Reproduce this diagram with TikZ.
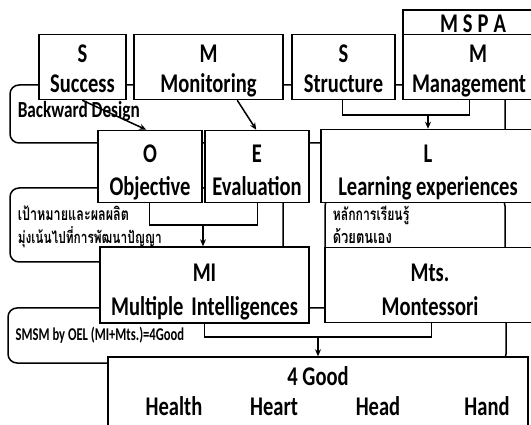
\documentclass[tikz,border=0pt]{standalone}
\usepackage{fontspec}
\setmainfont{Carlito}[FakeStretch=0.76]
\newfontfamily\lblfont{Carlito}[FakeStretch=0.75]
\newfontfamily\smfont{Carlito}[FakeStretch=0.70]
\newfontfamily\thaifont[Script=Thai,FakeStretch=0.72]{Loma}
\usetikzlibrary{arrows.meta,calc}
\newcommand\tl[1]{\rule{0pt}{#1pt}}
\newcommand\bl{\rule[-7pt]{0pt}{7pt}}
\begin{document}
\begin{tikzpicture}[x=1pt,y=-1pt,line width=1.5pt,
  box/.style={draw,fill=white,rectangle,inner sep=0pt,align=center,
    font=\fontsize{27}{30}\selectfont\bfseries},
  box2/.style={box,font=\fontsize{27}{33}\selectfont\bfseries},
  box3/.style={box,font=\fontsize{27}{34}\selectfont\bfseries},
  grp/.style={draw,rounded corners=9pt},
  lbl/.style={inner sep=0pt,anchor=base west},
  good/.style={inner sep=0pt,anchor=base,font=\fontsize{27}{30}\selectfont\bfseries},
  arr/.style={-{Stealth[length=7pt,width=6pt]}}]
\useasboundingbox (0,0) rectangle (531,425);
\fill[white] (0,0) rectangle (531,425);
% group outlines
\draw[grp] (10,85) rectangle (505,143);
\draw[grp] (10,188) rectangle (283,262);
\draw[grp] (325,197) rectangle (505,262);
\draw[grp] (8,308) rectangle (506,363);
% boxes
\node[box,minimum width=150,minimum height=27] (mspa) at (478,23.5) {M\hspace{5pt}S\hspace{5pt}P\hspace{5pt}A\hspace{10pt}};
\node[box,minimum width=87,minimum height=60] (s1) at (82.5,67) {\tl{28}S\\Success\bl};
\node[box,minimum width=149,minimum height=60] (m1) at (208.5,67) {\tl{28}M\\Monitoring\bl};
\node[box,minimum width=103,minimum height=60] (s2) at (343.5,67) {\tl{28}S\\Structure\bl};
\node[box,minimum width=150,minimum height=60] (m2) at (478,67) {\tl{28}M\\Management\hspace{18pt}\bl};
\node[box2,minimum width=104,minimum height=67] (o) at (150,166.5) {\tl{32}O\\Objective\bl};
\node[box2,minimum width=104,minimum height=67] (e) at (257,166.5) {\tl{32}E\\Evaluation\bl};
\node[box2,minimum width=214,minimum height=66] (l) at (428,166) {\tl{33}L\\Learning experiences\bl};
\node[box3,minimum width=209,minimum height=66] (mi) at (204.5,285) {\tl{35}MI\\Multiple\hspace{0.12em} Intelligences\bl};
\node[box3,minimum width=210,minimum height=66] (mts) at (430,285) {\tl{34}Mts.\\Montessori\bl};
\node[box,minimum width=420,minimum height=90] (g) at (318,402) {};
\node[good] (g0) at (318,385) {4 Good};
\node[good] (g1) at (174,415) {Health};
\node[good] (g2) at (274,415) {Heart};
\node[good] (g3) at (378,415) {Head};
\node[good] (g4) at (487,415) {Hand};
% labels
\node[lbl,font=\lblfont\fontsize{23}{26}\selectfont\bfseries] (bd) at (17,118) {Backward Design};
\node[lbl,font=\smfont\fontsize{18}{21}\selectfont\bfseries] (sm) at (15,341) {SMSM by OEL (MI+Mts.)=4Good};
\node[lbl,font=\thaifont\fontsize{17.5}{19}\selectfont\bfseries] (t1) at (17,221) {เป้าหมายและผลผลิต};
\node[lbl,font=\thaifont\fontsize{16.5}{19}\selectfont\bfseries] (t2) at (17,244) {มุ่งเน้นไปที่การพัฒนาปัญญา};
\node[lbl,font=\thaifont\fontsize{17}{19}\selectfont\bfseries] (t3) at (332,221) {หลักการเรียนรู้};
\node[lbl,font=\thaifont\fontsize{18}{19}\selectfont\bfseries] (t4) at (332,244) {ด้วยตนเอง};
% connectors
\draw[arr] ([xshift=44]s1.south west) -- ([xshift=49]o.north west);
\draw[arr] ([xshift=104]m1.south west) -- ([xshift=52]e.north west);
\coordinate (j1) at (428,115);
\draw ([xshift=51]s2.south west) |- (j1) -| ([xshift=67]m2.south west);
\draw[arr] (j1) -- (j1 |- l.north);
\coordinate (j2) at (203,225);
\draw ([xshift=52]o.south west) |- (j2) -| ([xshift=53]e.south west);
\draw[arr] (j2) -- (j2 |- mi.north);
\coordinate (j3) at (318,337);
\draw ([xshift=105]mi.south west) |- (j3) -| ([xshift=107]mts.south west);
\draw[arr] (j3) -- (j3 |- g.north);
\end{tikzpicture}
\end{document}
